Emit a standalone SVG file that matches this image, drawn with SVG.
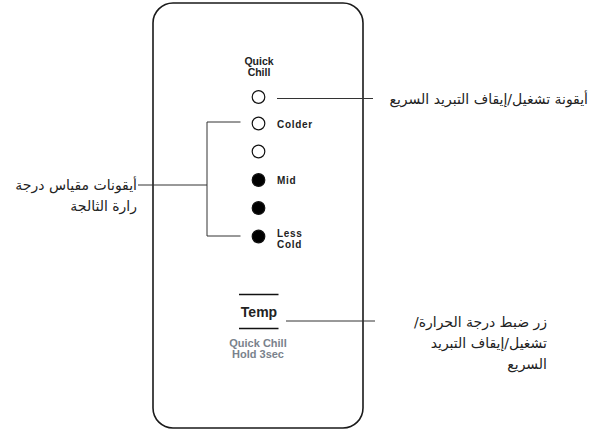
<svg xmlns="http://www.w3.org/2000/svg" width="591" height="430" viewBox="0 0 591 430">
<style>
.panel{fill:#fff;stroke:#1a1a1a;stroke-width:1.6}
.led{stroke:#111;stroke-width:1.2}
.off{fill:#fff}
.on{fill:#000}
.lbl{font-family:"Liberation Sans Narrow","Liberation Sans",sans-serif;font-weight:bold;font-size:10px;fill:#222;letter-spacing:0.7px}
.qc{font-family:"Liberation Sans",sans-serif;font-weight:bold;font-size:10.5px;fill:#222;text-anchor:middle}
.temp{font-family:"Liberation Sans",sans-serif;font-weight:bold;font-size:14px;fill:#222;text-anchor:middle}
.sub{font-family:"Liberation Sans",sans-serif;font-weight:bold;font-size:11px;fill:#7a828c;text-anchor:middle}
.ar{font-family:"DejaVu Sans",sans-serif;font-size:14px;fill:#222;direction:rtl;text-anchor:start}
.ln{stroke:#333;stroke-width:1;fill:none}
.bar{stroke:#111;stroke-width:1.3}
</style>
<rect class="panel" x="153" y="3" width="210" height="425" rx="20" ry="20"/>
<g id="quick-chill-icon">
<text class="qc" x="259" y="65">Quick</text>
<text class="qc" x="259" y="76">Chill</text>
<circle class="led off" cx="258.5" cy="97" r="6.3"/>
</g>
<g id="led-colder">
<circle class="led off" cx="258.5" cy="123.5" r="6.3"/>
<text class="lbl" x="277" y="127.5">Colder</text>
</g>
<g id="led-2">
<circle class="led off" cx="258.5" cy="151.5" r="6.3"/>
</g>
<g id="led-mid">
<circle class="led on" cx="258.5" cy="180" r="6.3"/>
<text class="lbl" x="277" y="184">Mid</text>
</g>
<g id="led-4">
<circle class="led on" cx="258.5" cy="208" r="6.3"/>
</g>
<g id="led-less-cold">
<circle class="led on" cx="258.5" cy="236.5" r="6.3"/>
<text class="lbl" x="277" y="236.5">Less</text>
<text class="lbl" x="277" y="247.5">Cold</text>
</g>
<g id="temp-button">
<line class="bar" x1="239" y1="294.5" x2="278.5" y2="294.5"/>
<text class="temp" x="259" y="316.5">Temp</text>
<line class="bar" x1="239" y1="328.5" x2="278.5" y2="328.5"/>
<text class="sub" x="258" y="346.5">Quick Chill</text>
<text class="sub" x="258" y="358">Hold 3sec</text>
</g>
<g id="label-quick-chill">
<text class="ar" x="588" y="104">أيقونة تشغيل/إيقاف التبريد السريع</text>
</g>
<g id="label-temp-scale">
<text class="ar" x="137" y="190">أيقونات مقياس درجة</text>
<text class="ar" x="137" y="211">رارة الثالجة</text>
</g>
<g id="label-temp-button">
<text class="ar" x="547" y="327">زر ضبط درجة الحرارة/</text>
<text class="ar" x="547" y="348">تشغيل/إيقاف التبريد</text>
<text class="ar" x="547" y="369">السريع</text>
</g>
<g id="connectors">
<line class="ln" x1="277" y1="98.5" x2="373" y2="98.5"/>
<polyline class="ln" points="240.5,122 207,122 207,236 240.5,236"/>
<line class="ln" x1="138" y1="185" x2="207" y2="185"/>
<line class="ln" x1="286" y1="321" x2="375" y2="321"/>
</g>
</svg>
